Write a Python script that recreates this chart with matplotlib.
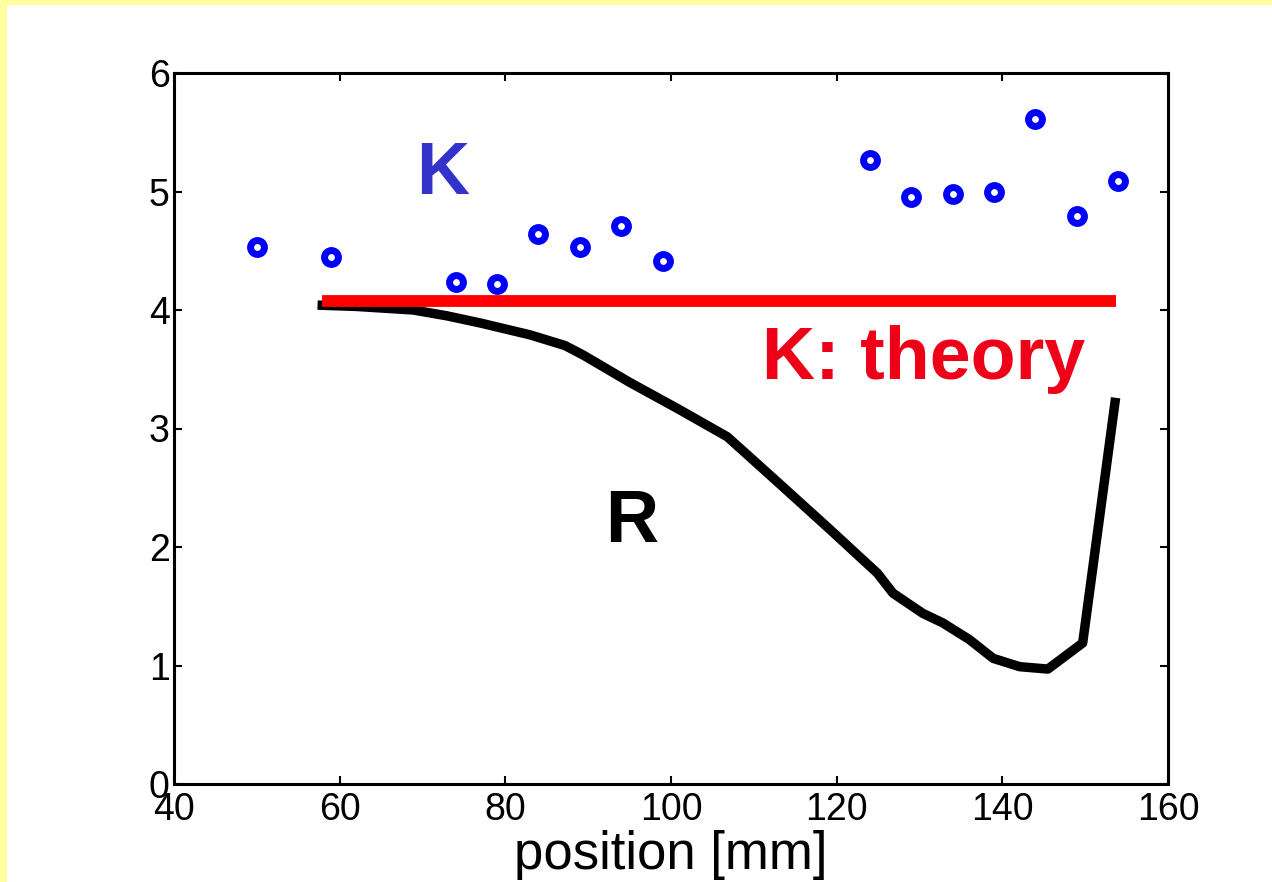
import matplotlib.pyplot as plt
from matplotlib.patches import Rectangle

# measured K values (blue circles)
k_pos = [50, 59, 74, 79, 84, 89, 94, 99, 124, 129, 134, 139, 144, 149, 154]
k_val = [4.53, 4.45, 4.24, 4.22, 4.64, 4.53, 4.71, 4.41, 5.27, 4.95, 4.98, 5.00, 5.61, 4.79, 5.09]

# theory value of K
k_theory_pos = [57.9, 153.7]
k_theory_val = [4.08, 4.08]

# R curve
r_pos = [57.9, 62.0, 68.9, 73.0, 77.0, 83.0, 87.2, 89.4, 95.0, 101.0, 106.8,
         113.0, 119.0, 124.9, 126.8, 130.4, 132.8, 136.0, 138.9, 142.1, 145.5, 149.7, 153.6]
r_val = [4.04, 4.03, 4.00, 3.95, 3.89, 3.79, 3.70, 3.62, 3.39, 3.16, 2.93,
         2.54, 2.16, 1.78, 1.61, 1.44, 1.36, 1.22, 1.06, 0.99, 0.97, 1.19, 3.22]

plt.rcParams['font.family'] = ['Liberation Sans', 'DejaVu Sans']

fig = plt.figure(figsize=(12.72, 8.82), dpi=100)
fig.patch.set_facecolor('white')
# yellow slide border on the top and left
fig.add_artist(Rectangle((0, 1 - 5 / 882), 1, 5 / 882, transform=fig.transFigure,
                         facecolor='#FFFFA0', edgecolor='none', zorder=0))
fig.add_artist(Rectangle((0, 0), 7 / 1272, 1, transform=fig.transFigure,
                         facecolor='#FFFFA0', edgecolor='none', zorder=0))

ax = fig.add_axes([174 / 1272, 1 - 784 / 882, 994 / 1272, 711 / 882])

ax.plot(r_pos, r_val, color='black', linewidth=6.8, solid_joinstyle='round')
ax.plot(k_theory_pos, k_theory_val, color='#FF0000', linewidth=8.5, solid_capstyle='butt')
ax.plot(k_pos, k_val, linestyle='none', marker='o', markersize=10, markeredgewidth=5,
        markeredgecolor='#0000FF', markerfacecolor='white')

# labels inside the plot
ax.text(72.4, 4.98, 'K', color='#3333CC', fontsize=53, fontweight='bold',
        ha='center', va='baseline')
ax.text(130.5, 3.42, 'K: theory', color='#EE0018', fontsize=53, fontweight='bold',
        ha='center', va='baseline')
ax.text(95.3, 2.04, 'R', color='black', fontsize=53, fontweight='bold',
        ha='center', va='baseline')

ax.set_xlim(40, 160)
ax.set_ylim(0, 6)
ax.set_xticks([40, 60, 80, 100, 120, 140, 160])
ax.set_yticks([0, 1, 2, 3, 4, 5, 6])
ax.tick_params(direction='in', top=True, right=True, length=6, width=1.5,
               labelsize=27)
ax.tick_params(axis='x', pad=6)
ax.tick_params(axis='y', pad=3)
for s in ax.spines.values():
    s.set_linewidth(2.2)
ax.set_xlabel('position [mm]', fontsize=38, labelpad=1)

fig.savefig('out.png', dpi=100)
